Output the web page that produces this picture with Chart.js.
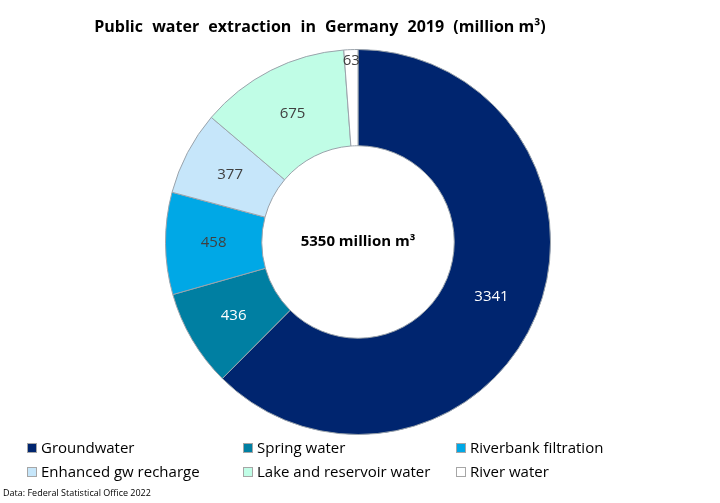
<!DOCTYPE html>
<html>
<head>
<meta charset="utf-8">
<script src="https://cdn.jsdelivr.net/npm/chart.js"></script>
<style>
  html, body { margin: 0; padding: 0; background: #fff; }
  #wrap { width: 720px; height: 503px; position: relative; }
</style>
</head>
<body>
<div id="wrap"><canvas id="graficoAgua" width="720" height="503"></canvas></div>
<script>
  const fuentes = ['Groundwater', 'Spring water', 'Riverbank filtration', 'Enhanced gw recharge', 'Lake and reservoir water', 'River water'];
  const volumenes = [3341, 436, 458, 377, 675, 63];
  const colores = ['#00256f', '#007fa2', '#00a8e6', '#c6e6fa', '#c0fde6', '#ffffff'];
  const coloresTexto = ['#ffffff', '#ffffff', '#404040', '#404040', '#404040', '#404040'];
  const titulo = 'Public water extraction in Germany 2019';
  const tituloUnidad = '(million m³)';
  const textoCentro = '5350 million m³';
  const fuenteDatos = 'Data: Federal Statistical Office 2022';

  const fontFam = '"Open Sans", "Noto Sans", sans-serif';

  const extras = {
    id: 'extras',
    afterDatasetsDraw(chart) {
      const ctx = chart.ctx;
      const meta = chart.getDatasetMeta(0);
      const total = volumenes.reduce((a, b) => a + b, 0);
      ctx.save();
      // etiquetas de valor
      ctx.font = '15px ' + fontFam;
      ctx.textAlign = 'center';
      ctx.textBaseline = 'middle';
      meta.data.forEach((arc, i) => {
        const p = arc.getProps(['startAngle', 'endAngle', 'innerRadius', 'outerRadius', 'x', 'y'], true);
        const mid = (p.startAngle + p.endAngle) / 2;
        let r = (p.innerRadius + p.outerRadius) / 2;
        if (volumenes[i] / total < 0.02) r = p.outerRadius - 11;
        ctx.fillStyle = coloresTexto[i];
        ctx.fillText(String(volumenes[i]), p.x + Math.cos(mid) * r, p.y + Math.sin(mid) * r);
      });
      // texto central
      const a0 = meta.data[0];
      ctx.fillStyle = '#000';
      ctx.font = 'bold 15px ' + fontFam;
      ctx.fillText(textoCentro, a0.x, a0.y);

      // titulo
      ctx.font = 'bold 16px ' + fontFam;
      ctx.textAlign = 'left';
      ctx.wordSpacing = '5px';
      const w1 = ctx.measureText(titulo + ' ').width;
      ctx.wordSpacing = '0px';
      const w2 = ctx.measureText(tituloUnidad).width;
      const x0 = 320 - (w1 + w2) / 2;
      ctx.wordSpacing = '5px';
      ctx.fillText(titulo + ' ', x0, 27);
      ctx.wordSpacing = '0px';
      ctx.fillText(tituloUnidad, x0 + w1, 27);

      // leyenda
      const colX = [27, 243, 456];
      const filaY = [448, 472];
      ctx.font = '15px ' + fontFam;
      fuentes.forEach((f, i) => {
        const x = colX[i % 3], y = filaY[Math.floor(i / 3)];
        ctx.fillStyle = colores[i];
        ctx.fillRect(x, y - 5, 10, 10);
        ctx.strokeStyle = '#a6a6a6';
        ctx.lineWidth = 1;
        ctx.strokeRect(x + 0.5, y - 4.5, 9, 9);
        ctx.fillStyle = '#000';
        ctx.fillText(f, x + 14, y + 1);
      });

      // fuente
      ctx.font = '9px ' + fontFam;
      ctx.fillStyle = '#000';
      ctx.fillText(fuenteDatos, 3, 493);
      ctx.restore();
    }
  };

  new Chart(document.getElementById('graficoAgua'), {
    type: 'doughnut',
    data: {
      labels: fuentes,
      datasets: [{
        data: volumenes,
        backgroundColor: colores,
        borderColor: '#9aa3ab',
        borderWidth: 1,
        hoverOffset: 0
      }]
    },
    options: {
      responsive: false,
      animation: false,
      cutout: '50%',
      layout: { padding: { left: 165, right: 169, top: 48, bottom: 67 } },
      plugins: {
        legend: { display: false },
        title: { display: false },
        tooltip: { enabled: false }
      }
    },
    plugins: [extras]
  });
</script>
</body>
</html>
